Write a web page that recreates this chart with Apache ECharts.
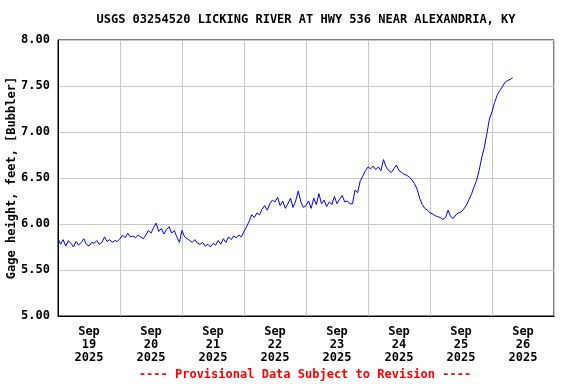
<!DOCTYPE html>
<html>
<head>
<meta charset="utf-8">
<script src="https://cdn.jsdelivr.net/npm/echarts@6/dist/echarts.min.js"></script>
<style>
html,body{margin:0;padding:0;background:#fff;}
#chart{width:576px;height:384px;}
</style>
</head>
<body>
<div id="chart"></div>
<script>
// Hourly gage height readings (feet), starting Sep 19 2025 00:00
const sampleStartHour = 0;
const sampleStepHours = 1;
const gageHeight = [
  5.84, 5.78, 5.83, 5.76, 5.82, 5.79, 5.75, 5.81, 5.77, 5.80, 5.84, 5.78, 5.76, 5.80, 5.79, 5.82, 5.78, 5.80, 5.86, 5.81, 5.83, 5.80, 5.82, 5.81,
  5.84, 5.88, 5.85, 5.90, 5.86, 5.87, 5.85, 5.88, 5.86, 5.84, 5.88, 5.93, 5.90, 5.96, 6.01, 5.92, 5.95, 5.89, 5.94, 5.97, 5.90, 5.93, 5.86, 5.80,
  5.93, 5.86, 5.84, 5.82, 5.80, 5.83, 5.79, 5.78, 5.80, 5.76, 5.78, 5.75, 5.79, 5.77, 5.82, 5.78, 5.84, 5.80, 5.86, 5.83, 5.87, 5.85, 5.88, 5.86,
  5.92, 5.97, 6.03, 6.10, 6.07, 6.12, 6.10, 6.16, 6.20, 6.15, 6.22, 6.26, 6.24, 6.29, 6.20, 6.25, 6.17, 6.22, 6.28, 6.18, 6.25, 6.36, 6.24, 6.18,
  6.20, 6.25, 6.17, 6.28, 6.21, 6.33, 6.22, 6.26, 6.19, 6.24, 6.21, 6.30, 6.22, 6.27, 6.31, 6.24, 6.25, 6.22, 6.22, 6.37, 6.34, 6.47, 6.52, 6.58,
  6.62, 6.60, 6.63, 6.59, 6.62, 6.58, 6.70, 6.62, 6.58, 6.56, 6.60, 6.64, 6.58, 6.56, 6.54, 6.53, 6.51, 6.48, 6.44, 6.38, 6.28, 6.21, 6.17, 6.15,
  6.12, 6.11, 6.09, 6.08, 6.07, 6.05, 6.07, 6.15, 6.08, 6.06, 6.10, 6.12, 6.13, 6.16, 6.20, 6.26, 6.32, 6.40, 6.47, 6.58, 6.72, 6.83, 6.98, 7.14,
  7.22, 7.32, 7.40, 7.45, 7.49, 7.54, 7.56, 7.57, 7.59
];
const xTickLabels = [
  'Sep\n19\n2025', 'Sep\n20\n2025', 'Sep\n21\n2025', 'Sep\n22\n2025',
  'Sep\n23\n2025', 'Sep\n24\n2025', 'Sep\n25\n2025', 'Sep\n26\n2025'
];
const titleText = 'USGS 03254520 LICKING RIVER AT HWY 536 NEAR ALEXANDRIA, KY';
const yAxisTitle = 'Gage height, feet, [Bubbler]';
const footerText = '---- Provisional Data Subject to Revision ----';

const seriesData = gageHeight.map((v, i) => [sampleStartHour + i * sampleStepHours, v]);
const FONT = '"DejaVu Sans Mono", monospace';

const chart = echarts.init(document.getElementById('chart'), null, {renderer: 'canvas'});
chart.setOption({
  animation: false,
  backgroundColor: '#fff',
  grid: {left: 58, right: 22, top: 40, bottom: 68, show: true, borderColor: '#000', borderWidth: 1,
         containLabel: false, outerBoundsMode: 'none'},
  xAxis: [
    {
      type: 'value', min: 0, max: 192, interval: 24,
      axisLine: {show: true, lineStyle: {color: '#000', width: 1}},
      axisTick: {show: false},
      axisLabel: {show: false},
      splitLine: {show: true, lineStyle: {color: '#c8c8c8', width: 1}}
    },
    {
      type: 'value', min: 0, max: 192, interval: 12, position: 'bottom',
      axisLine: {show: false}, axisTick: {show: false}, splitLine: {show: false},
      axisLabel: {
        show: true, margin: 9, color: '#000', fontFamily: FONT, fontWeight: 'bold', fontSize: 12, lineHeight: 13,
        formatter: v => (v % 24 === 12 ? xTickLabels[(v - 12) / 24] : '')
      }
    }
  ],
  yAxis: {
    type: 'value', min: 5, max: 8, interval: 0.5,
    axisLine: {show: true, lineStyle: {color: '#000', width: 1}},
    axisTick: {show: false},
    axisLabel: {color: '#000', fontFamily: FONT, fontWeight: 'bold', fontSize: 12, margin: 8, formatter: v => v.toFixed(2)},
    splitLine: {show: true, lineStyle: {color: '#c8c8c8', width: 1}}
  },
  graphic: [
    {type: 'text', x: 306, y: 20, style: {text: titleText, fill: '#000', font: 'bold 12px ' + FONT, textAlign: 'center', textVerticalAlign: 'middle'}},
    {type: 'text', x: 12, y: 178, rotation: Math.PI / 2, style: {text: yAxisTitle, fill: '#000', font: 'bold 12px ' + FONT, textAlign: 'center', textVerticalAlign: 'middle'}},
    {type: 'text', x: 305, y: 375, style: {text: footerText, fill: '#ff0000', font: 'bold 12px ' + FONT, textAlign: 'center', textVerticalAlign: 'middle'}}
  ],
  series: [{
    type: 'line', xAxisIndex: 0, data: seriesData, showSymbol: false, symbol: 'none',
    lineStyle: {color: '#0000ff', width: 1}, silent: true
  }]
});
</script>
</body>
</html>
